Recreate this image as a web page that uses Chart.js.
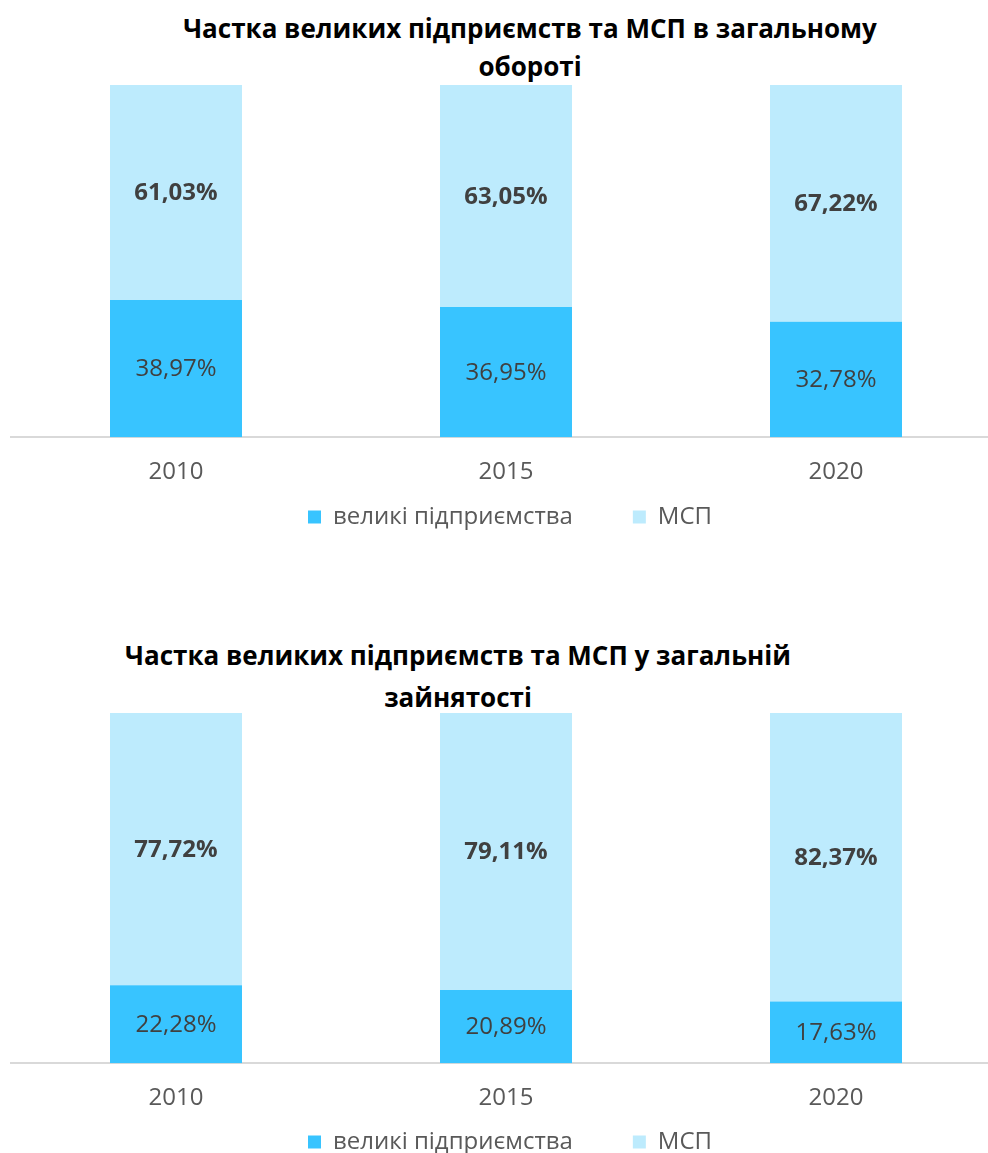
<!DOCTYPE html>
<html>
<head>
<meta charset="utf-8">
<script src="https://cdn.jsdelivr.net/npm/chart.js@4.4.1/dist/chart.umd.min.js"></script>
<style>
  html, body { margin: 0; padding: 0; background: #fff; }
  body { width: 988px; height: 1153px; position: relative; overflow: hidden; }
  .title {
    position: absolute; width: 1000px; text-align: center;
    font-family: "Open Sans", sans-serif; font-weight: 700; font-size: 26px;
    color: #000;
  }
  .box { position: absolute; left: 0; width: 1001px; }
</style>
</head>
<body>
<div class="title" style="left:30px; top:9px; line-height:38px;">Частка великих підприємств та МСП в загальному<br>обороті</div>
<div class="box" style="top:80px; height:522px;"><canvas id="turnover"></canvas></div>

<div class="title" style="left:-42px; top:634px; line-height:42px;">Частка великих підприємств та МСП у загальній<br>зайнятості</div>
<div class="box" style="top:708px; height:520px;"><canvas id="employment"></canvas></div>

<script>
const years = ['2010', '2015', '2020'];
const seriesNames = ['великі підприємства', 'МСП'];

// частка в обороті, %
const turnoverLarge = [38.97, 36.95, 32.78];
const turnoverSme = [61.03, 63.05, 67.22];

// частка в зайнятості, %
const employmentLarge = [22.28, 20.89, 17.63];
const employmentSme = [77.72, 79.11, 82.37];

const colorLarge = '#38C4FF';
const colorSme = '#BDEBFD';

// підписи значень всередині сегментів
const barLabels = {
    id: 'barLabels',
    afterDatasetsDraw(chart) {
        const ctx = chart.ctx;
        ctx.save();
        ctx.textAlign = 'center';
        ctx.textBaseline = 'middle';
        ctx.fillStyle = '#404040';
        chart.data.datasets.forEach((ds, i) => {
            const meta = chart.getDatasetMeta(i);
            ctx.font = (i === 1 ? 'bold ' : '') + '24px "Open Sans", sans-serif';
            meta.data.forEach((bar, j) => {
                const y = (bar.y + bar.base) / 2;
                ctx.fillText(ds.data[j].toFixed(2).replace('.', ',') + '%', bar.x, y + 1);
            });
        });
        ctx.restore();
    }
};

// легенда ближче до підписів осі
const legendLift = {
    id: 'legendLift',
    afterLayout(chart, args, opts) {
        const lg = chart.legend;
        if (!lg) return;
        lg.top -= opts.shift;
        lg.bottom -= opts.shift;
        lg.left += opts.dx;
        lg.right += opts.dx;
    }
};

function renderShareChart(canvasId, large, sme, shift) {
    const ctx = document.getElementById(canvasId).getContext('2d');
    return new Chart(ctx, {
        type: 'bar',
        data: {
            labels: years,
            datasets: [
                { label: seriesNames[0], data: large, backgroundColor: colorLarge },
                { label: seriesNames[1], data: sme, backgroundColor: colorSme }
            ]
        },
        options: {
            responsive: true,
            maintainAspectRatio: false,
            animation: false,
            layout: { padding: { top: 5, left: 11, right: 0, bottom: 0 } },
            datasets: { bar: { barPercentage: 0.4, categoryPercentage: 1 } },
            plugins: {
                tooltip: { enabled: false },
                legendLift: { shift, dx: 4 },
                legend: {
                    position: 'bottom',
                    labels: {
                        boxWidth: 13,
                        boxHeight: 13,
                        padding: 60,
                        color: '#595959',
                        font: { family: '"Open Sans", sans-serif', size: 24 }
                    }
                }
            },
            scales: {
                x: {
                    stacked: true,
                    grid: { display: false, drawTicks: false },
                    border: { display: true, color: '#D9D9D9', width: 2 },
                    ticks: {
                        padding: 21,
                        color: '#595959',
                        font: { family: '"Open Sans", sans-serif', size: 24 }
                    }
                },
                y: {
                    stacked: true,
                    display: false,
                    min: 0,
                    max: 100
                }
            }
        },
        plugins: [barLabels, legendLift]
    });
}

renderShareChart('turnover', turnoverLarge, turnoverSme, 63);
renderShareChart('employment', employmentLarge, employmentSme, 64);
</script>
</body>
</html>
